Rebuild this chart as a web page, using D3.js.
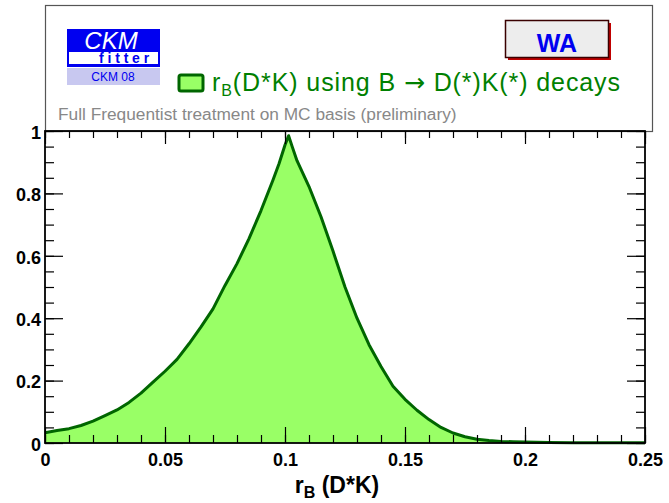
<!DOCTYPE html>
<html>
<head>
<meta charset="utf-8">
<script src="https://cdn.jsdelivr.net/npm/d3@7"></script>
<style>
  body { margin: 0; background: #fff; }
  svg { display: block; font-family: "Liberation Sans", Arial, sans-serif; }
</style>
</head>
<body>
<div id="chart"></div>
<script>
const width = 669;
const height = 503;

const margin = { top: 131, left: 45, bottom: 60, right: 16 };

// r_B(D*K) scan: 1 - CL versus r_B
const rB = [0, 0.005, 0.01, 0.015, 0.02, 0.025, 0.03, 0.035, 0.04, 0.045,
    0.05, 0.055, 0.06, 0.065, 0.07, 0.075, 0.08, 0.085, 0.09, 0.095,
    0.0975, 0.1, 0.1015, 0.103, 0.105, 0.11, 0.115, 0.12, 0.125, 0.13,
    0.135, 0.14, 0.145, 0.15, 0.155, 0.16, 0.165, 0.17, 0.175, 0.18,
    0.185, 0.19, 0.195, 0.2, 0.21, 0.22, 0.23, 0.24, 0.25];
const cl = [0.033, 0.040, 0.046, 0.056, 0.070, 0.088, 0.106, 0.130, 0.160, 0.195,
    0.230, 0.268, 0.318, 0.372, 0.430, 0.505, 0.575, 0.655, 0.745, 0.843,
    0.895, 0.955, 0.985, 0.950, 0.905, 0.822, 0.725, 0.615, 0.500, 0.400,
    0.315, 0.245, 0.182, 0.140, 0.105, 0.075, 0.050, 0.032, 0.020, 0.012,
    0.008, 0.005, 0.004, 0.003, 0.002, 0.001, 0.001, 0.0005, 0.0005];

const xTicks = [0, 0.05, 0.1, 0.15, 0.2, 0.25];
const xMinor = d3.range(0, 0.2501, 0.01);
const yTicks = [0, 0.2, 0.4, 0.6, 0.8, 1];
const yMinor = d3.range(0, 1.001, 0.05);

const points = rB.map((r, i) => ({ r: r, v: cl[i] }));

const xScale = d3.scaleLinear()
    .domain([0, 0.25])
    .range([margin.left, width - margin.right - 8]);

const yScale = d3.scaleLinear()
    .domain([0, 1])
    .range([height - margin.bottom, margin.top]);

const svg = d3.select("#chart").append("svg")
    .attr("width", width)
    .attr("height", height);

// upper pad with logos and legend
svg.append("rect")
    .attr("x", 45.5).attr("y", 5.5)
    .attr("width", 607).attr("height", 126)
    .attr("fill", "none")
    .attr("stroke", "#555")
    .attr("stroke-width", 1.2);

// CKMfitter logo
const logo = svg.append("g");
logo.append("rect").attr("x", 67).attr("y", 29).attr("width", 93).attr("height", 38).attr("fill", "#0000f0");
logo.append("rect").attr("x", 69).attr("y", 52).attr("width", 89).attr("height", 12).attr("fill", "#fff");
logo.append("text")
    .attr("x", 111).attr("y", 49)
    .attr("text-anchor", "middle")
    .attr("fill", "#fff")
    .attr("font-size", 24)
    .attr("font-style", "italic")
    .text("CKM");
logo.append("text")
    .attr("x", 126).attr("y", 63)
    .attr("text-anchor", "middle")
    .attr("fill", "#0000f0")
    .attr("font-size", 14)
    .attr("font-weight", "bold")
    .attr("letter-spacing", 3.8)
    .text("fitter");
logo.append("rect").attr("x", 67).attr("y", 68).attr("width", 93).attr("height", 17).attr("fill", "#c8c8f0");
logo.append("text")
    .attr("x", 113).attr("y", 81)
    .attr("text-anchor", "middle")
    .attr("fill", "#0000f0")
    .attr("font-size", 12)
    .text("CKM 08");

// WA box
svg.append("rect")
    .attr("x", 508).attr("y", 23).attr("width", 103).attr("height", 37)
    .attr("fill", "#c00000");
svg.append("rect")
    .attr("x", 505.5).attr("y", 20.5).attr("width", 103).attr("height", 37)
    .attr("fill", "#ededed")
    .attr("stroke", "#3a0000")
    .attr("stroke-width", 1.5);
svg.append("text")
    .attr("x", 557).attr("y", 52)
    .attr("text-anchor", "middle")
    .attr("fill", "#0000f0")
    .attr("font-size", 25)
    .attr("font-weight", "bold")
    .text("WA");

// legend
svg.append("rect")
    .attr("x", 179).attr("y", 75).attr("width", 24).attr("height", 16)
    .attr("rx", 2)
    .attr("fill", "#99ff66")
    .attr("stroke", "#006600")
    .attr("stroke-width", 3);
const leg = svg.append("text")
    .attr("x", 212).attr("y", 91)
    .attr("fill", "#008000")
    .attr("font-size", 25)
    .attr("textLength", 408)
    .attr("lengthAdjust", "spacing");
leg.append("tspan").text("r");
leg.append("tspan").attr("font-size", 16).attr("dy", 5).text("B");
leg.append("tspan").attr("dy", -5).text("(D*K) using B ");
leg.append("tspan").attr("font-family", "DejaVu Sans").text("\u2192");
leg.append("tspan").text(" D(*)K(*) decays");

svg.append("text")
    .attr("x", 58).attr("y", 120)
    .attr("fill", "#888")
    .attr("font-size", 17.3)
    .text("Full Frequentist treatment on MC basis (preliminary)");

// filled scan curve
const area = d3.area()
    .x(d => xScale(d.r))
    .y0(yScale(0))
    .y1(d => yScale(d.v));

const line = d3.line()
    .x(d => xScale(d.r))
    .y(d => yScale(d.v));

svg.append("path")
    .datum(points)
    .attr("fill", "#99ff66")
    .attr("d", area);

svg.append("path")
    .datum(points)
    .attr("fill", "none")
    .attr("stroke", "#006600")
    .attr("stroke-width", 3)
    .attr("stroke-linejoin", "round")
    .attr("d", line);

// axes, ticks pointing inward
const x0 = yScale(0), x1 = yScale(1);
const left = xScale(0), right = xScale(0.25);

svg.append("g")
    .attr("transform", `translate(0,${x0})`)
    .call(d3.axisBottom(xScale).tickValues(xMinor).tickSize(-8).tickFormat(""));
svg.append("g")
    .attr("class", "x-axis")
    .attr("transform", `translate(0,${x0})`)
    .call(d3.axisBottom(xScale).tickValues(xTicks).tickSize(-16).tickPadding(10).tickFormat(d => d));
svg.append("g")
    .attr("transform", `translate(0,${x1})`)
    .call(d3.axisTop(xScale).tickValues(xMinor).tickSize(-7).tickFormat(""));
svg.append("g")
    .attr("transform", `translate(0,${x1})`)
    .call(d3.axisTop(xScale).tickValues(xTicks).tickSize(-13).tickFormat(""));

svg.append("g")
    .attr("transform", `translate(${left},0)`)
    .call(d3.axisLeft(yScale).tickValues(yMinor).tickSize(-9).tickFormat(""));
svg.append("g")
    .attr("class", "y-axis")
    .attr("transform", `translate(${left},0)`)
    .call(d3.axisLeft(yScale).tickValues(yTicks).tickSize(-18).tickPadding(4).tickFormat(d => d));
svg.append("g")
    .attr("transform", `translate(${right},0)`)
    .call(d3.axisRight(yScale).tickValues(yMinor).tickSize(-9).tickFormat(""));
svg.append("g")
    .attr("transform", `translate(${right},0)`)
    .call(d3.axisRight(yScale).tickValues(yTicks).tickSize(-18).tickFormat(""));

svg.selectAll(".domain").remove();
svg.selectAll(".tick line").attr("stroke", "#000").attr("stroke-width", 1.2);
svg.selectAll(".x-axis text, .y-axis text")
    .attr("font-family", "Liberation Sans, Arial, sans-serif")
    .attr("font-size", 18)
    .attr("font-weight", "bold")
    .attr("fill", "#000");
svg.selectAll(".y-axis text").attr("dy", "0.4em");

// frame
svg.append("rect")
    .attr("x", left).attr("y", x1)
    .attr("width", right - left).attr("height", x0 - x1)
    .attr("fill", "none")
    .attr("stroke", "#000")
    .attr("stroke-width", 1.8);

// axis title
const title = svg.append("text")
    .attr("x", 337).attr("y", 493)
    .attr("text-anchor", "middle")
    .attr("font-size", 23)
    .attr("font-weight", "bold");
title.append("tspan").text("r");
title.append("tspan").attr("font-size", 16).attr("dy", 5).text("B");
title.append("tspan").attr("dy", -5).text(" (D*K)");
</script>
</body>
</html>
